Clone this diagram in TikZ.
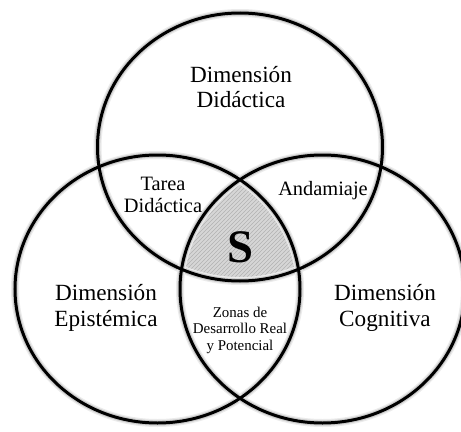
\documentclass[tikz,border=0pt]{standalone}
\usepackage{fontspec}
\setmainfont{Liberation Serif}
\usetikzlibrary{patterns}

\begin{document}
\begin{tikzpicture}[
    x=0.75pt, y=-0.75pt,
    ringsize/.style={x radius=142.5, y radius=134},
    ring/.style={line width=2.25pt},
    glowwide/.style={line width=6pt, black!8},
    glownarrow/.style={line width=4pt, black!20},
    dimlbl/.style={align=center, font=\fontsize{17.4}{19.2}\selectfont},
    pairlbl/.style={align=center, font=\fontsize{15.3}{16.5}\selectfont},
    smalllbl/.style={align=center, font=\fontsize{11.2}{12.4}\selectfont},
    corelbl/.style={font=\fontsize{35}{40}\selectfont\bfseries},
]
\useasboundingbox (0,0) rectangle (461,432);

\coordinate (cdid) at (240,147);
\coordinate (cepi) at (157.5,289);
\coordinate (ccog) at (322.5,289);

% shaded core
\begin{scope}
\clip (cdid) ellipse [ringsize];
\clip (cepi) ellipse [ringsize];
\fill[black!16] (ccog) ellipse [ringsize];
\fill[pattern=north east lines, pattern color=black!30] (ccog) ellipse [ringsize];
\end{scope}

% soft shadow, then rings
\foreach \c in {cdid, cepi, ccog} {
    \draw[glowwide] (\c) ellipse [ringsize];
    \draw[glownarrow] (\c) ellipse [ringsize];
}
\foreach \c in {cdid, cepi, ccog}
    \draw[ring] (\c) ellipse [ringsize];

\node[dimlbl] (didlbl) at (241,87) {Dimensión\\Didáctica};
\node[dimlbl] (epilbl) at (106,308) {Dimensión\\Epistémica};
\node[dimlbl] (coglbl) at (385,308) {Dimensión\\Cognitiva};

\node[pairlbl] (tarea) at (163,195) {Tarea\\Didáctica};
\node[pairlbl] (andam) at (323,191) {Andamiaje};
\node[smalllbl] (zonas) at (240,330) {Zonas de\\Desarrollo Real\\y Potencial};

\node[corelbl] (core) at (240,247) {S};
\end{tikzpicture}
\end{document}
